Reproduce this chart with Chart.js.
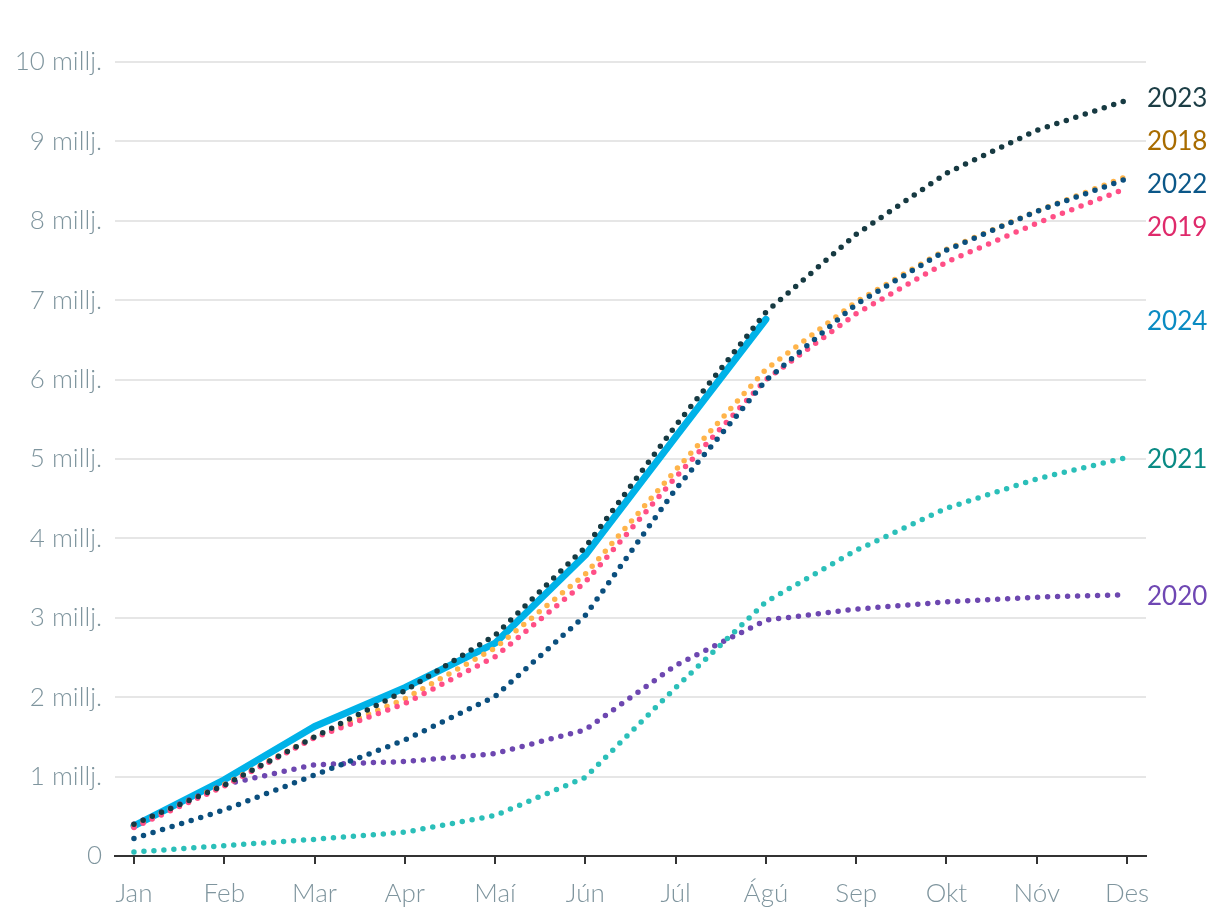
<!DOCTYPE html>
<html lang="is">
<head>
    <meta charset="UTF-8">
    <title>Farþegar eftir mánuðum</title>
    <script src="https://cdn.jsdelivr.net/npm/chart.js"></script>
    <style>
        html, body { margin: 0; padding: 0; background: #ffffff; }
        .chart-wrap { width: 1220px; height: 922px; position: relative; }
    </style>
</head>
<body>
    <div class="chart-wrap">
        <canvas id="yearChart"></canvas>
    </div>

    <script>
        // Gögn (uppsafnað, milljónir)
        const months = ['Jan', 'Feb', 'Mar', 'Apr', 'Maí', 'Jún', 'Júl', 'Ágú', 'Sep', 'Okt', 'Nóv', 'Des'];
        const years = ['2023', '2018', '2022', '2019', '2024', '2021', '2020'];

        const y2023 = [0.40, 0.89, 1.50, 2.08, 2.78, 3.89, 5.42, 6.85, 7.83, 8.60, 9.14, 9.52];
        const y2018 = [0.38, 0.90, 1.50, 1.98, 2.62, 3.55, 4.86, 6.13, 6.98, 7.64, 8.12, 8.56];
        const y2022 = [0.22, 0.58, 1.02, 1.46, 2.01, 3.03, 4.62, 5.99, 6.95, 7.63, 8.12, 8.53];
        const y2019 = [0.36, 0.88, 1.49, 1.92, 2.51, 3.45, 4.77, 6.00, 6.83, 7.48, 7.97, 8.41];
        const y2024 = [0.38, 0.96, 1.63, 2.12, 2.68, 3.79, 5.28, 6.76];
        const y2021 = [0.05, 0.13, 0.21, 0.30, 0.51, 0.99, 2.12, 3.20, 3.85, 4.38, 4.75, 5.02];
        const y2020 = [0.40, 0.90, 1.15, 1.19, 1.29, 1.59, 2.40, 2.97, 3.11, 3.20, 3.26, 3.29];

        const yTicks = [0, 1, 2, 3, 4, 5, 6, 7, 8, 9, 10];

        const lineColors = {
            '2023': '#173a42', '2018': '#ffb44a', '2022': '#0b4f7e', '2019': '#ff4f86',
            '2024': '#00b2e8', '2021': '#2bbfb9', '2020': '#6d47b0'
        };
        const labelColors = {
            '2023': '#1b3d45', '2018': '#a86c00', '2022': '#0b5788', '2019': '#df2a6b',
            '2024': '#0a8bc2', '2021': '#0a8a84', '2020': '#6f47b3'
        };
        const seriesValues = {
            '2023': y2023, '2018': y2018, '2022': y2022, '2019': y2019,
            '2024': y2024, '2021': y2021, '2020': y2020
        };
        const drawOrder = { '2023': 0, '2022': 1, '2019': 2, '2018': 3, '2021': 4, '2020': 5, '2024': 6 };

        const axisGrey = '#7f959e';

        function makeDataset(year) {
            const solid = year === '2024';
            return {
                label: year,
                data: seriesValues[year].map((v, i) => ({ x: i, y: v })),
                borderColor: lineColors[year],
                borderWidth: solid ? 7 : 5.5,
                borderDash: solid ? [] : [0, 10],
                borderCapStyle: 'round',
                borderJoinStyle: 'round',
                pointRadius: 0,
                tension: 0,
                fill: false,
                order: drawOrder[year]
            };
        }

        // Ártöl við enda línanna, ýtt í sundur ef þau skarast
        const endLabels = {
            id: 'endLabels',
            afterDatasetsDraw(chart) {
                const ctx = chart.ctx;
                const yScale = chart.scales.y;
                const gap = 43;
                const items = years.map(year => {
                    const vals = seriesValues[year];
                    return { year, want: yScale.getPixelForValue(vals[vals.length - 1]) };
                }).sort((a, b) => a.want - b.want);

                let clusters = items.map(it => ({ items: [it], top: it.want }));
                let moved = true;
                while (moved) {
                    moved = false;
                    for (const c of clusters) {
                        const mean = c.items.reduce((s, it) => s + it.want, 0) / c.items.length;
                        c.top = mean - (c.items.length - 1) * gap / 2;
                    }
                    for (let i = 0; i < clusters.length - 1; i++) {
                        const a = clusters[i], b = clusters[i + 1];
                        if (a.top + a.items.length * gap > b.top) {
                            a.items = a.items.concat(b.items);
                            clusters.splice(i + 1, 1);
                            moved = true;
                            break;
                        }
                    }
                }

                ctx.save();
                ctx.font = '400 26px Lato, "Noto Sans", sans-serif';
                ctx.textAlign = 'left';
                ctx.textBaseline = 'middle';
                const x = chart.chartArea.right + 1;
                clusters.forEach(c => {
                    c.items.forEach((it, k) => {
                        ctx.fillStyle = labelColors[it.year];
                        ctx.fillText(it.year, x, c.top + k * gap + 2);
                    });
                });
                ctx.restore();
            }
        };

        new Chart(document.getElementById('yearChart'), {
            type: 'line',
            data: {
                datasets: years.map(makeDataset)
            },
            options: {
                responsive: true,
                maintainAspectRatio: false,
                animation: false,
                layout: { padding: { top: 62, right: 74, bottom: 0, left: 0 } },
                plugins: {
                    legend: { display: false },
                    tooltip: { enabled: false }
                },
                scales: {
                    x: {
                        type: 'linear',
                        min: -0.21,
                        max: 11.21,
                        afterFit(scale) { scale.height = 66; },
                        grid: {
                            drawOnChartArea: false,
                            drawTicks: true,
                            tickLength: 8,
                            color: '#333333',
                            lineWidth: 2
                        },
                        border: { display: true, color: '#333333', width: 2 },
                        ticks: {
                            stepSize: 1,
                            includeBounds: false,
                            autoSkip: false,
                            maxRotation: 0,
                            padding: 14,
                            color: axisGrey,
                            font: { family: 'Lato', weight: 300, size: 26 },
                            callback: v => months[v]
                        }
                    },
                    y: {
                        min: 0,
                        max: 10,
                        afterFit(scale) { scale.width = 115; },
                        afterBuildTicks(scale) { scale.ticks = yTicks.map(v => ({ value: v })); },
                        grid: {
                            color: '#e6e6e6',
                            lineWidth: 2,
                            drawTicks: false
                        },
                        border: { display: false },
                        ticks: {
                            padding: 13,
                            color: axisGrey,
                            font: { family: 'Lato', weight: 300, size: 26 },
                            callback: v => v === 0 ? '0' : v + ' millj.'
                        }
                    }
                }
            },
            plugins: [endLabels]
        });
    </script>
</body>
</html>
